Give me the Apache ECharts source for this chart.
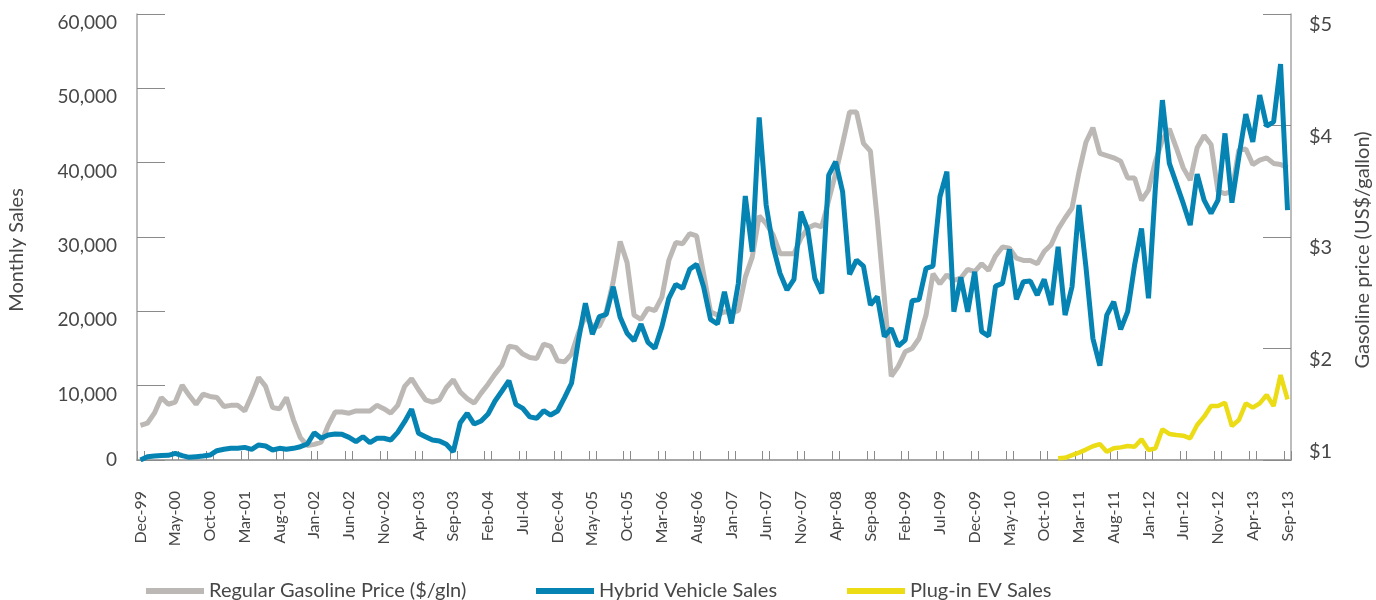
<!DOCTYPE html>
<html>
<head>
<meta charset="utf-8">
<script src="https://cdn.jsdelivr.net/npm/echarts@6/dist/echarts.min.js"></script>
<style>
html,body{margin:0;padding:0;background:#fff;}
#c{width:1376px;height:600px;}
</style>
</head>
<body>
<div id="c"></div>
<script>
// ---- categories: monthly, Dec-99 .. Sep-13 ----
const monthNames = ['Jan','Feb','Mar','Apr','May','Jun','Jul','Aug','Sep','Oct','Nov','Dec'];
const categories = [];
for (let k = 0; k < 166; k++) {
  const m = (11 + k) % 12;
  const y = 1999 + Math.floor((11 + k) / 12);
  categories.push(monthNames[m] + '-' + String(y % 100).padStart(2, '0'));
}

// ---- Regular gasoline price ($/gallon), right axis ----
const gasPrice = [
  1.31,1.33,1.42,1.56,1.50,1.52,1.67,1.58,1.50,1.59,1.57,1.56,1.48,1.49,1.49,1.44,1.58,1.74,1.66,1.47,
  1.46,1.56,1.36,1.20,1.13,1.14,1.16,1.31,1.43,1.43,1.42,1.44,1.44,1.44,1.49,1.46,1.42,1.49,1.66,1.73,
  1.63,1.54,1.52,1.54,1.65,1.72,1.61,1.55,1.51,1.60,1.68,1.77,1.85,2.02,2.01,1.95,1.92,1.91,2.04,2.02,
  1.89,1.88,1.95,2.14,2.29,2.20,2.20,2.33,2.60,2.96,2.77,2.30,2.26,2.36,2.34,2.46,2.79,2.95,2.94,3.03,
  3.01,2.67,2.33,2.30,2.33,2.32,2.34,2.64,2.82,3.19,3.12,3.02,2.85,2.85,2.85,2.99,3.08,3.11,3.09,3.33,
  3.57,3.84,4.12,4.12,3.84,3.77,3.15,2.46,1.75,1.84,1.97,2.00,2.09,2.30,2.67,2.58,2.66,2.61,2.63,2.71,
  2.69,2.76,2.70,2.83,2.91,2.90,2.81,2.79,2.79,2.76,2.87,2.93,3.07,3.17,3.26,3.58,3.85,3.98,3.75,3.73,
  3.71,3.68,3.53,3.53,3.33,3.42,3.68,3.87,3.97,3.80,3.62,3.51,3.80,3.91,3.83,3.41,3.39,3.41,3.78,3.79,
  3.65,3.69,3.71,3.66,3.65,3.62
];

// ---- Hybrid vehicle monthly sales, left axis ----
const hybridSales = [
  0,450,540,600,630,900,580,360,450,540,670,1250,1440,1570,1570,1700,1440,2020,1880,1345,
  1570,1440,1570,1790,2150,3670,2920,3360,3500,3450,3050,2470,3140,2330,2920,2920,2690,3720,5150,6820,
  3590,3140,2690,2560,2110,1120,5020,6280,4840,5245,6190,7940,9280,10670,7490,6950,5800,5610,6630,6050,
  6590,8380,10320,16140,21080,16910,19280,19600,23310,19190,17040,16050,18290,15830,15020,17930,21750,23630,23090,25650,
  26320,23310,18920,18290,22640,18380,23770,35510,28020,46090,34300,28690,25110,22870,24300,33400,30940,24440,22420,38330,
  40120,36090,24970,26900,26090,20850,21970,16590,17710,15330,16140,21430,21600,25780,26090,35420,38780,19950,24570,19950,
  25330,17260,16680,23400,23770,28340,21610,23980,24080,22190,24300,20850,28690,19500,23310,34300,26000,16370,12700,19500,
  21290,17580,19950,26230,31160,21750,36760,48420,39900,37210,34520,31600,38470,34970,33180,34970,43940,34610,40790,46540,
  42810,49090,44920,45500,53260,33630
];

// ---- Plug-in EV monthly sales, left axis (Dec-10 .. Sep-13) ----
const evStart = 'Dec-10';
const evSales = [
  230,300,650,1000,1400,1850,2150,1100,1570,1700,1880,1790,2780,1345,1570,4130,3500,3360,3270,2920,
  4710,5830,7260,7260,7710,4570,5380,7620,7040,7620,8740,7260,11430,8160
];

const leftTicks = [0,10000,20000,30000,40000,50000,60000];
const rightTicks = [1,2,3,4,5];

const evSeries = categories.map(() => null);
const evIdx = categories.indexOf(evStart);
evSales.forEach((v, j) => { evSeries[evIdx + j] = v; });

const FONT = 'Lato, "Open Sans", sans-serif';
const TXT = '#474747';
const AX = '#a6a6a6';
const W = 'normal';

const chart = echarts.init(document.getElementById('c'), null, {renderer: 'canvas'});
chart.setOption({
  animation: false,
  backgroundColor: '#fff',
  textStyle: {fontFamily: FONT},
  grid: {left: 137, right: 85, top: 14, bottom: 140, containLabel: false, outerBoundsMode: 'none'},
  legend: [
    {data: ['Regular Gasoline Price ($/gln)'], left: 141, top: 576, icon: 'rect', itemWidth: 58, itemHeight: 6, itemGap: 12,
     textStyle: {fontSize: 20, color: TXT, fontFamily: FONT, fontWeight: W}},
    {data: ['Hybrid Vehicle Sales'], left: 531, top: 576, icon: 'rect', itemWidth: 58, itemHeight: 6,
     textStyle: {fontSize: 20, color: TXT, fontFamily: FONT, fontWeight: W}},
    {data: ['Plug-in EV Sales'], left: 842, top: 576, icon: 'rect', itemWidth: 58, itemHeight: 6,
     textStyle: {fontSize: 20, color: TXT, fontFamily: FONT, fontWeight: W}}
  ],
  xAxis: {
    type: 'category',
    data: categories,
    boundaryGap: true,
    axisLine: {show: true, lineStyle: {color: AX, width: 2}},
    axisTick: {show: true, inside: true, length: 9, lineStyle: {color: '#8a8a8a', width: 1},
      interval: function (i) { return i % 5 === 0 || i % 5 === 1; }},
    axisLabel: {interval: 4, rotate: 90, margin: 31, fontSize: 16, color: TXT, fontFamily: FONT, fontWeight: W},
    splitLine: {show: false}
  },
  yAxis: [
    {
      type: 'value', min: leftTicks[0], max: leftTicks[leftTicks.length - 1], interval: 10000,
      name: 'Monthly Sales', nameLocation: 'middle', nameRotate: 90, nameGap: 110,
      nameTextStyle: {fontSize: 20, color: TXT, fontFamily: FONT, fontWeight: W, padding: [0, 26, 0, 0]},
      axisLine: {show: true, lineStyle: {color: AX, width: 1.5}},
      axisTick: {show: true, inside: true, length: 28, lineStyle: {color: '#8a8a8a', width: 1}},
      splitLine: {show: false},
      axisLabel: {
        margin: 20, fontSize: 19, color: TXT, fontFamily: FONT, fontWeight: W,
        formatter: function (v) {
          if (v === 0) return '{z|0}';
          return '{n|' + v.toLocaleString('en-US') + '}';
        },
        rich: {
          z: {fontSize: 19, color: TXT, fontFamily: FONT, fontWeight: W},
          n: {fontSize: 19, color: TXT, fontFamily: FONT, fontWeight: W, padding: [18, 0, 0, 0]}
        }
      }
    },
    {
      type: 'value', min: rightTicks[0], max: rightTicks[rightTicks.length - 1], interval: 1, position: 'right',
      name: 'Gasoline price (US$/gallon)', nameLocation: 'middle', nameRotate: 90, nameGap: 62,
      nameTextStyle: {fontSize: 20, color: TXT, fontFamily: FONT, fontWeight: W, padding: [0, 26, 0, 0]},
      axisLine: {show: true, lineStyle: {color: AX, width: 1.5}},
      axisTick: {show: true, inside: true, length: 28, lineStyle: {color: '#8a8a8a', width: 1}},
      splitLine: {show: false},
      axisLabel: {
        margin: 18, fontSize: 20, color: TXT, fontFamily: FONT, fontWeight: W,
        formatter: function (v) {
          if (v === 1) return '{b|$1}';
          return '{t|$' + v + '}';
        },
        rich: {
          b: {fontSize: 20, color: TXT, fontFamily: FONT, fontWeight: W, padding: [0, 0, 16, 0]},
          t: {fontSize: 20, color: TXT, fontFamily: FONT, fontWeight: W, padding: [22, 0, 0, 0]}
        }
      }
    }
  ],
  series: [
    {name: 'Regular Gasoline Price ($/gln)', type: 'line', yAxisIndex: 1, data: gasPrice,
     showSymbol: false, symbol: 'none', lineStyle: {color: '#bcb8b5', width: 5}, itemStyle: {color: '#bcb8b5'}, z: 2},
    {name: 'Hybrid Vehicle Sales', type: 'line', yAxisIndex: 0, data: hybridSales,
     showSymbol: false, symbol: 'none', lineStyle: {color: '#0584b4', width: 5}, itemStyle: {color: '#0584b4'}, z: 3},
    {name: 'Plug-in EV Sales', type: 'line', yAxisIndex: 0, data: evSeries,
     showSymbol: false, symbol: 'none', connectNulls: false, lineStyle: {color: '#ebdc16', width: 4.5}, itemStyle: {color: '#ebdc16'}, z: 4}
  ]
});
</script>
</body>
</html>
